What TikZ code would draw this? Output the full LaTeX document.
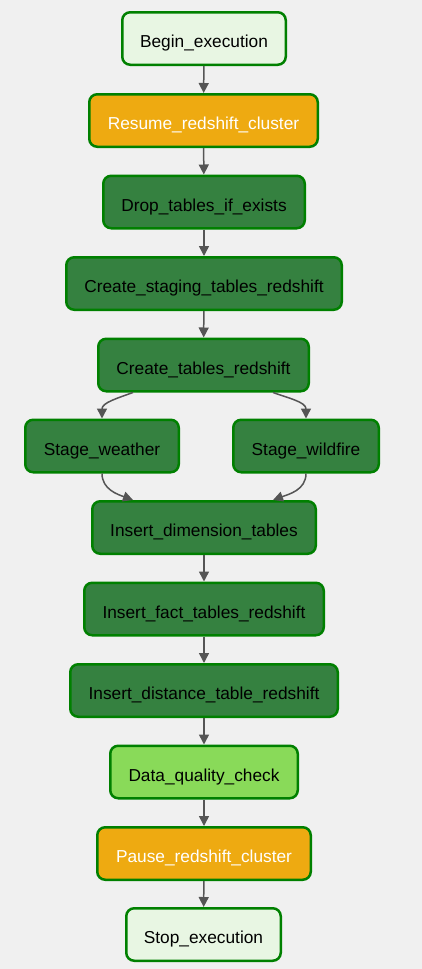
\documentclass[tikz,border=0pt]{standalone}
\usepackage{fontspec}
\setmainfont{Liberation Sans}
\usetikzlibrary{arrows.meta}

\definecolor{bgGray}{HTML}{F0F0F0}
\definecolor{borderGreen}{HTML}{008000}
\definecolor{startFill}{HTML}{E8F6E3}
\definecolor{clusterOrange}{HTML}{EEAA11}
\definecolor{taskGreen}{HTML}{358140}
\definecolor{checkGreen}{HTML}{89DA59}
\definecolor{edgeGray}{HTML}{555555}

\begin{document}
\begin{tikzpicture}[x=1pt,y=1pt,
  task/.style={draw=borderGreen, line width=2.5pt, rounded corners=8pt,
    minimum height=52.5pt, inner sep=0pt, text height=18.4pt, text depth=0pt,
    font=\fontsize{17.3}{20}\selectfont},
  startbox/.style={task, fill=startFill, text=black},
  orangebox/.style={task, fill=clusterOrange, text=white},
  greenbox/.style={task, fill=taskGreen, text=black},
  checkbox/.style={task, fill=checkGreen, text=black},
  flow/.style={draw=edgeGray, line width=1.5pt,
    -{Triangle[length=10pt,width=10pt]}}]
  % Background (fixes the page size)
  \fill[bgGray] (0,0) rectangle (422,-969);

  % --- Column of tasks ---
  \def\MIDX{204}
  \node[startbox, minimum width=163.5pt] (begin) at (\MIDX,-38.5) {Begin\_execution};
  \node[orangebox, minimum width=228.5pt] (resume) at (203.5,-120.5) {Resume\_redshift\_cluster};
  \node[greenbox, minimum width=201.5pt] (drop) at (\MIDX,-202) {Drop\_tables\_if\_exists};
  \node[greenbox, minimum width=275.5pt] (staging) at (\MIDX,-283.5) {Create\_staging\_tables\_redshift};
  \node[greenbox, minimum width=210.5pt] (tables) at (203.5,-365) {Create\_tables\_redshift};

  % Two stage tasks side by side
  \node[greenbox, minimum width=153.5pt] (weather) at (102,-446) {Stage\_weather};
  \node[greenbox, minimum width=145.5pt] (wildfire) at (306,-446) {Stage\_wildfire};

  \node[greenbox, minimum width=223.5pt] (dimension) at (\MIDX,-527.5) {Insert\_dimension\_tables};
  \node[greenbox, minimum width=239.5pt] (fact) at (\MIDX,-609) {Insert\_fact\_tables\_redshift};
  \node[greenbox, minimum width=267.5pt] (distance) at (\MIDX,-690.5) {Insert\_distance\_table\_redshift};
  \node[checkbox, minimum width=187.5pt] (quality) at (\MIDX,-772) {Data\_quality\_check};
  \node[orangebox, minimum width=213.5pt] (pause) at (\MIDX,-853.5) {Pause\_redshift\_cluster};
  \node[startbox, minimum width=154.5pt] (stop) at (203.5,-934.5) {Stop\_execution};

  % --- Straight edges ---
  \draw[flow] (begin) -- (resume);
  \draw[flow] (resume) -- (drop);
  \draw[flow] (drop) -- (staging);
  \draw[flow] (staging) -- (tables);
  \draw[flow] (dimension) -- (fact);
  \draw[flow] (fact) -- (distance);
  \draw[flow] (distance) -- (quality);
  \draw[flow] (quality) -- (pause);
  \draw[flow] (pause) -- (stop);

  % --- Fan out and fan in ---
  \draw[flow] ([xshift=-70.5pt]tables.south) to[out=200,in=90] (weather.north);
  \draw[flow] ([xshift=69.5pt]tables.south) to[out=-20,in=90] (wildfire.north);
  \draw[flow] (weather.south) to[out=-90,in=160] ([xshift=-71pt]dimension.north);
  \draw[flow] (wildfire.south) to[out=-90,in=20] ([xshift=69pt]dimension.north);
\end{tikzpicture}
\end{document}
